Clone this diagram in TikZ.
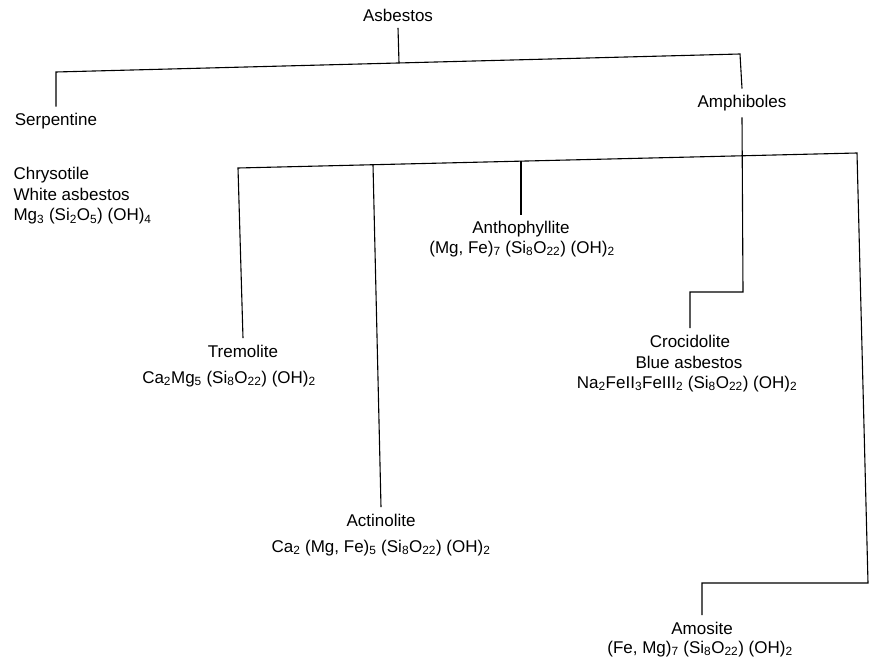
\documentclass[tikz,border=0pt]{standalone}
\usepackage{fontspec}
\setmainfont{Liberation Sans}
\usetikzlibrary{positioning}

\newcommand{\sbs}[1]{\textsubscript{#1}}

\begin{document}
\begin{tikzpicture}[x=1pt, y=-1pt, line width=1.1pt,
  every node/.style={font=\fontsize{17}{20.5}\selectfont, inner xsep=0pt, inner ysep=6pt}]
  \useasboundingbox (0,0) rectangle (875,668);
  % top level
  \node (asb) at (398,15) {Asbestos};
  \node (serp) at (56,121) {Serpentine};
  \node[anchor=west, align=left] (chrys) at (13,196)
    {Chrysotile\\White asbestos\\Mg\sbs{3} (Si\sbs{2}O\sbs{5}) (OH)\sbs{4}};
  \node (amph) at (742,103) {Amphiboles};
  % amphiboles
  \node (trem) at (243,351) {Tremolite};
  \node (tremf) at (229,379) {Ca\sbs{2}Mg\sbs{5} (Si\sbs{8}O\sbs{22}) (OH)\sbs{2}};
  \node (act) at (381,520) {Actinolite};
  \node (actf) at (381,548) {Ca\sbs{2} (Mg, Fe)\sbs{5} (Si\sbs{8}O\sbs{22}) (OH)\sbs{2}};
  \node (anth) at (521,229) {Anthophyllite};
  \node (anthf) at (522,249) {(Mg, Fe)\sbs{7} (Si\sbs{8}O\sbs{22}) (OH)\sbs{2}};
  \node (croc) at (690,341) {Crocidolite};
  \node (crocb) at (689,362) {Blue asbestos};
  \node (crocf) at (687,384) {Na\sbs{2}FeII\sbs{3}FeIII\sbs{2} (Si\sbs{8}O\sbs{22}) (OH)\sbs{2}};
  \node (amos) at (702,628) {Amosite};
  \node (amosf) at (700,649) {(Fe, Mg)\sbs{7} (Si\sbs{8}O\sbs{22}) (OH)\sbs{2}};
  % corners and joints
  \coordinate (top) at (399,63);
  \coordinate (tl) at (56,72);
  \coordinate (tr) at (740,54);
  \coordinate (ml) at (238,168);
  \coordinate (mr) at (857,153);
  \coordinate (mact) at (373,164.7);
  \coordinate (manth) at (521,161);
  \coordinate (jog1) at (743,292);
  \coordinate (jog2) at (690,292);
  \coordinate (jog3) at (868,583);
  \coordinate (jog4) at (702,583);
  % lines
  \draw (asb.south) -- (top);
  \draw (serp.north) -- (tl) -- (tr) -- (amph.north);
  \draw (amph.south) -- (jog1) -- (jog2) -- (croc.north);
  \draw (trem.north) -- (ml) -- (mr) -- (jog3) -- (jog4) -- (amos.north);
  \draw (mact) -- (act.north);
  \draw (manth) -- (anth.north);
\end{tikzpicture}
\end{document}
